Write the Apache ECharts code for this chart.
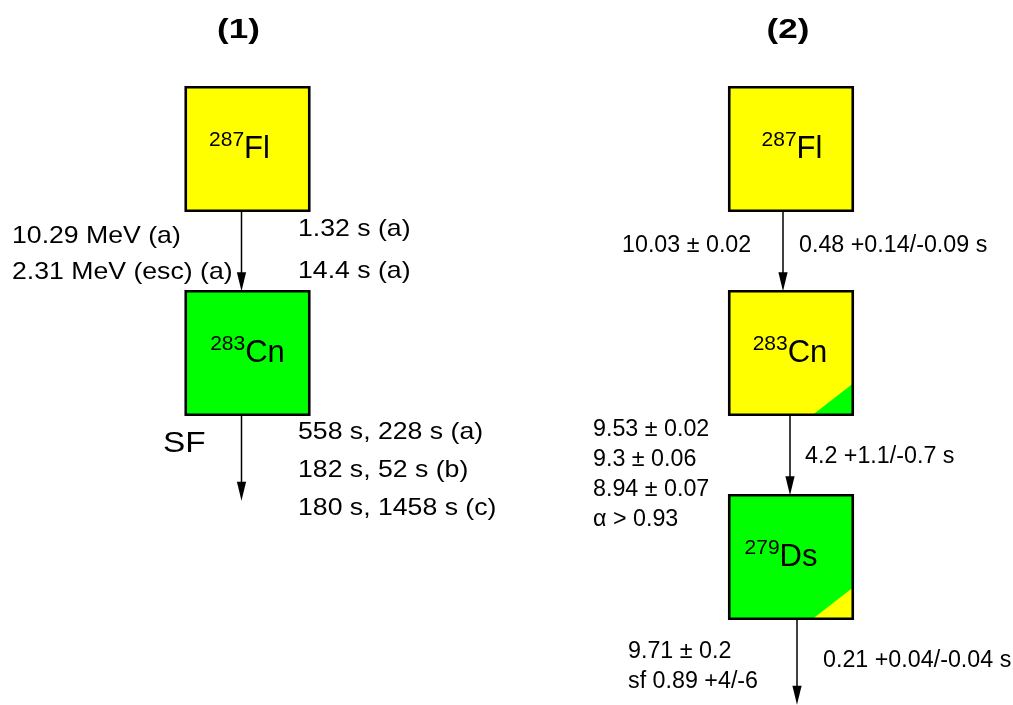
<!DOCTYPE html>
<html>
<head>
<meta charset="utf-8">
<script src="https://cdn.jsdelivr.net/npm/echarts@6/dist/echarts.min.js"></script>
<style>
html,body{margin:0;padding:0;background:#fff;}
#main{width:1013px;height:705px;}
</style>
</head>
<body>
<div id="main"></div>
<script>
// ---------------- DATA ----------------
const chainTitles = ['(1)', '(2)'];

const nuclideChain = [0, 0, 1, 1, 1];
const nuclideLevel = [0, 1, 0, 1, 2];
const nuclideMass = ['287', '283', '287', '283', '279'];
const nuclideSymbol = ['Fl', 'Cn', 'Fl', 'Cn', 'Ds'];
const nuclideMainMode = ['alpha', 'sf', 'alpha', 'alpha', 'sf'];
const nuclideMinorMode = [null, null, null, 'sf', 'alpha'];

const decayChain = [0, 0, 1, 1, 1];
const decayFromLevel = [0, 1, 0, 1, 2];
const decayToLevel = [1, null, 1, 2, null];
const decayLeftLines = [
  ['10.29 MeV (a)', '2.31 MeV (esc) (a)'],
  ['SF'],
  ['10.03 \u00b1 0.02'],
  ['9.53 \u00b1 0.02', '9.3 \u00b1 0.06', '8.94 \u00b1 0.07', '\u03b1 > 0.93'],
  ['9.71 \u00b1 0.2', 'sf 0.89 +4/-6']
];
const decayRightLines = [
  ['1.32 s (a)', '14.4 s (a)'],
  ['558 s, 228 s (a)', '182 s, 52 s (b)', '180 s, 1458 s (c)'],
  ['0.48 +0.14/-0.09 s'],
  ['4.2 +1.1/-0.7 s'],
  ['0.21 +0.04/-0.04 s']
];

// ---------------- LAYOUT / STYLE ----------------
const FONT = '"Liberation Sans", Arial, Helvetica, sans-serif';
const BOX = 123.5;
const MODE_COLOR = { alpha: '#ffff00', sf: '#00ff00' };
const labelDx = [-8, 0, 1, -1, -10];
const arrowDx = [-6, -6, -8, -1, 6];
const terminalLen = 86;
// per-decay label placement (relative to box centre x / box bottom y)
const leftDx = [-235.5, -84.5, -169, -198, -163];
const leftDy = [25.5, 28.5, 35, 14.5, 32.5];
const leftGap = [36, 0, 0, 30.3, 30];
const rightDx = [50.5, 50.5, 8, 14, 32];
const rightDy = [18.5, 17.5, 35, 41.5, 41.5];
const rightGap = [42, 38, 0, 0, 0];
const chainFont = [24, 23];
const chainScaleX = [1.11, 1.012];
const leftFontOverride = [null, 30, null, null, null];

const measureCtx = document.createElement('canvas').getContext('2d');
function textWidth(t, size, weight) {
  measureCtx.font = (weight || 'normal') + ' ' + size + 'px ' + FONT;
  return measureCtx.measureText(t).width;
}

function txt(x, y, text, size, opts) {
  opts = opts || {};
  return {
    type: 'text', x: x, y: y,
    scaleX: opts.scaleX || 1,
    style: {
      text: text, fill: '#000', fontFamily: FONT, fontSize: size,
      fontWeight: opts.weight || 'normal',
      align: opts.align || 'left', verticalAlign: 'middle'
    }
  };
}

const chart = echarts.init(document.getElementById('main'), null, { renderer: 'canvas' });

const nuclideData = nuclideChain.map((c, i) => [c, nuclideLevel[i], i]);
const decayData = decayChain.map((c, i) => [c, decayFromLevel[i], i]);
const titleData = chainTitles.map((t, i) => [i, 0, i]);

function renderNuclide(params, api) {
  const i = api.value(2);
  const c = api.coord([api.value(0), api.value(1)]);
  const h = BOX / 2;
  const x0 = c[0] - h, y0 = c[1] - h;
  const kids = [{
    type: 'rect', shape: { x: x0, y: y0, width: BOX, height: BOX },
    style: { fill: MODE_COLOR[nuclideMainMode[i]], stroke: null }
  }];
  if (nuclideMinorMode[i]) {
    kids.push({
      type: 'polygon',
      shape: { points: [[x0 + BOX, y0 + BOX], [x0 + BOX - 40, y0 + BOX], [x0 + BOX, y0 + BOX - 31]] },
      style: { fill: MODE_COLOR[nuclideMinorMode[i]] }
    });
  }
  kids.push({
    type: 'rect', shape: { x: x0, y: y0, width: BOX, height: BOX },
    style: { fill: null, stroke: '#000', lineWidth: 2.6 }
  });
  const wm = textWidth(nuclideMass[i], 21);
  const ws = textWidth(nuclideSymbol[i], 31);
  const sx = c[0] - (wm + ws) / 2 + labelDx[i];
  kids.push(txt(sx, c[1] - 9, nuclideMass[i], 21));
  kids.push(txt(sx + wm, c[1], nuclideSymbol[i], 31));
  return { type: 'group', children: kids };
}

function renderDecay(params, api) {
  const i = api.value(2);
  const chain = api.value(0);
  const c = api.coord([chain, api.value(1)]);
  const ax = c[0] + arrowDx[i];
  const yStart = c[1] + BOX / 2;
  let yEnd;
  if (decayToLevel[i] != null) {
    yEnd = api.coord([chain, decayToLevel[i]])[1] - BOX / 2;
  } else {
    yEnd = yStart + terminalLen;
  }
  const headL = 19, headW = 4.6;
  const kids = [
    { type: 'line', shape: { x1: ax, y1: yStart, x2: ax, y2: yEnd - headL + 2 }, style: { stroke: '#000', lineWidth: 1.5 } },
    { type: 'polygon', shape: { points: [[ax, yEnd], [ax - headW, yEnd - headL], [ax + headW, yEnd - headL]] }, style: { fill: '#000' } }
  ];
  const fs = chainFont[chain];
  const scx = chainScaleX[chain];
  decayLeftLines[i].forEach((t, k) => {
    const size = leftFontOverride[i] || fs;
    kids.push(txt(c[0] + leftDx[i], yStart + leftDy[i] + k * leftGap[i], t, size, { scaleX: scx }));
  });
  decayRightLines[i].forEach((t, k) => {
    kids.push(txt(c[0] + rightDx[i], yStart + rightDy[i] + k * rightGap[i], t, fs, { scaleX: scx }));
  });
  return { type: 'group', children: kids };
}

function renderTitle(params, api) {
  const i = api.value(2);
  const c = api.coord([api.value(0), api.value(1)]);
  const dx = i === 0 ? -9 : -3;
  return txt(c[0] + dx, c[1] - 119, chainTitles[i], 28, { weight: 'bold', align: 'center', scaleX: 1.25 });
}

// axis mapping: chain index -> x, decay level -> y
const X0 = 247.5, XS = 543.5, Y0 = 149, YS = 204;
const option = {
  backgroundColor: '#ffffff',
  animation: false,
  grid: { left: 0, right: 0, top: 0, bottom: 0 },
  xAxis: { type: 'value', min: -X0 / XS, max: (1013 - X0) / XS, show: false },
  yAxis: { type: 'value', min: -Y0 / YS, max: (705 - Y0) / YS, inverse: true, show: false },
  series: [
    { type: 'custom', renderItem: renderDecay, data: decayData, silent: true, clip: false },
    { type: 'custom', renderItem: renderNuclide, data: nuclideData, silent: true, clip: false },
    { type: 'custom', renderItem: renderTitle, data: titleData, silent: true, clip: false }
  ]
};
chart.setOption(option);
</script>
</body>
</html>
